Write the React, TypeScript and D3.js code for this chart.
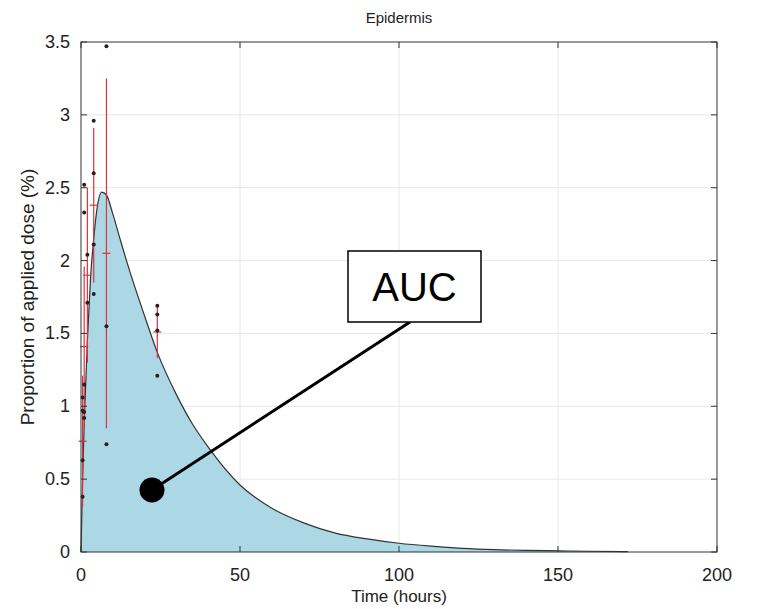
import { useEffect, useRef } from "react"
import * as d3 from "d3"

// fitted curve
const curveT = [0, 0.5, 1, 2, 3, 4, 5, 6.5, 8, 10, 12, 15, 20, 24, 30, 35, 40, 50, 60, 70, 80, 90, 100, 110, 120, 130, 140, 150, 160, 172]
const curveY = [0, 0.5, 0.88, 1.45, 1.88, 2.15, 2.35, 2.47, 2.45, 2.32, 2.17, 1.95, 1.62, 1.37, 1.08, 0.88, 0.72, 0.46, 0.3, 0.2, 0.13, 0.09, 0.06, 0.04, 0.025, 0.016, 0.011, 0.008, 0.005, 0.003]

// observed data
const obsTimes = [0.5, 1, 2, 4, 8, 24]
const obsMeans = [0.76, 1.41, 1.9, 2.38, 2.05, 1.51]
const obsSd = [0.45, 0.55, 0.6, 0.53, 1.2, 0.18]
const obsValues = [
  [0.38, 0.63, 0.97, 1.06],
  [0.92, 0.96, 1.15, 2.33, 2.52],
  [1.71, 2.04],
  [1.77, 2.11, 2.6, 2.96],
  [0.74, 1.55, 3.47],
  [1.21, 1.52, 1.63, 1.69],
]

const xTicks = [0, 50, 100, 150, 200]
const yTicks = [0, 0.5, 1, 1.5, 2, 2.5, 3, 3.5]

const W = 763
const H = 609
const margin = { top: 42, right: 46, bottom: 57, left: 81 }

const App = () => {
  const ref = useRef<SVGSVGElement>(null)

  useEffect(() => {
    document.body.style.margin = "0"
    const svg = d3.select(ref.current)
    svg.selectAll("*").remove()

    const iw = W - margin.left - margin.right
    const ih = H - margin.top - margin.bottom
    const x = d3.scaleLinear().domain([0, 200]).range([0, iw])
    const y = d3.scaleLinear().domain([0, 3.5]).range([ih, 0])

    svg.append("rect").attr("width", W).attr("height", H).attr("fill", "#fff")

    const g = svg.append("g").attr("transform", `translate(${margin.left},${margin.top})`)

    // grid
    g.append("g").selectAll("line").data(xTicks.slice(1, -1)).join("line")
      .attr("x1", d => x(d)).attr("x2", d => x(d)).attr("y1", 0).attr("y2", ih)
      .attr("stroke", "#e8e8e8").attr("stroke-width", 1)
    g.append("g").selectAll("line").data(yTicks.slice(1, -1)).join("line")
      .attr("y1", d => y(d)).attr("y2", d => y(d)).attr("x1", 0).attr("x2", iw)
      .attr("stroke", "#e8e8e8").attr("stroke-width", 1)

    const pts: [number, number][] = curveT.map((t, i) => [t, curveY[i]])

    const area = d3.area<[number, number]>()
      .x(d => x(d[0])).y0(y(0)).y1(d => y(d[1]))
      .curve(d3.curveMonotoneX)
    g.append("path").datum(pts).attr("d", area).attr("fill", "#acd8e6")

    const line = d3.line<[number, number]>()
      .x(d => x(d[0])).y(d => y(d[1]))
      .curve(d3.curveMonotoneX)
    g.append("path").datum(pts).attr("d", line)
      .attr("fill", "none").attr("stroke", "#333").attr("stroke-width", 1.2)

    // error bars
    const eb = g.append("g").attr("stroke", "#e0303a").attr("stroke-width", 1.2)
    obsTimes.forEach((t, i) => {
      eb.append("line")
        .attr("x1", x(t)).attr("x2", x(t))
        .attr("y1", y(obsMeans[i] - obsSd[i])).attr("y2", y(obsMeans[i] + obsSd[i]))
      eb.append("line")
        .attr("x1", x(t) - 4).attr("x2", x(t) + 4)
        .attr("y1", y(obsMeans[i])).attr("y2", y(obsMeans[i]))
    })

    // data points
    const dp = g.append("g").attr("fill", "#222")
    obsTimes.forEach((t, i) => {
      obsValues[i].forEach(v => {
        dp.append("circle").attr("cx", x(t)).attr("cy", y(v)).attr("r", 2)
      })
    })

    // axes box
    g.append("rect").attr("width", iw).attr("height", ih)
      .attr("fill", "none").attr("stroke", "#333").attr("stroke-width", 1)

    const tickLen = 6
    const tk = g.append("g").attr("stroke", "#333").attr("stroke-width", 1)
    xTicks.forEach(d => {
      tk.append("line").attr("x1", x(d)).attr("x2", x(d)).attr("y1", ih).attr("y2", ih - tickLen)
      tk.append("line").attr("x1", x(d)).attr("x2", x(d)).attr("y1", 0).attr("y2", tickLen)
    })
    yTicks.forEach(d => {
      tk.append("line").attr("y1", y(d)).attr("y2", y(d)).attr("x1", 0).attr("x2", tickLen)
      tk.append("line").attr("y1", y(d)).attr("y2", y(d)).attr("x1", iw).attr("x2", iw - tickLen)
    })

    const font = "Liberation Sans, Arial, sans-serif"
    g.append("g").selectAll("text").data(xTicks).join("text")
      .attr("x", d => x(d)).attr("y", ih + 29)
      .attr("text-anchor", "middle").attr("font-family", font).attr("font-size", 18)
      .attr("fill", "#222").text(d => d)
    g.append("g").selectAll("text").data(yTicks).join("text")
      .attr("x", -11).attr("y", d => y(d) + 6)
      .attr("text-anchor", "end").attr("font-family", font).attr("font-size", 18)
      .attr("fill", "#222").text(d => d)

    svg.append("text").attr("x", margin.left + iw / 2).attr("y", 23)
      .attr("text-anchor", "middle").attr("font-family", font).attr("font-size", 15)
      .attr("fill", "#222").text("Epidermis")
    svg.append("text").attr("x", margin.left + iw / 2).attr("y", 602)
      .attr("text-anchor", "middle").attr("font-family", font).attr("font-size", 17)
      .attr("fill", "#222").text("Time (hours)")
    svg.append("text")
      .attr("transform", `translate(34,${margin.top + ih / 2}) rotate(-90)`)
      .attr("text-anchor", "middle").attr("font-family", font).attr("font-size", 19)
      .attr("fill", "#222").text("Proportion of applied dose (%)")

    // AUC annotation
    svg.append("line").attr("x1", 410).attr("y1", 322).attr("x2", 152).attr("y2", 490)
      .attr("stroke", "#000").attr("stroke-width", 3)
    svg.append("circle").attr("cx", 152).attr("cy", 490).attr("r", 12.5).attr("fill", "#000")
    svg.append("rect").attr("x", 348).attr("y", 251).attr("width", 133).attr("height", 71)
      .attr("fill", "#fff").attr("stroke", "#000").attr("stroke-width", 1.5)
    svg.append("text").attr("x", 414.5).attr("y", 301)
      .attr("text-anchor", "middle").attr("font-family", font).attr("font-size", 40)
      .attr("fill", "#000").text("AUC")
  }, [])

  return <svg ref={ref} width={W} height={H} style={{ display: "block" }} />
}

export default App
